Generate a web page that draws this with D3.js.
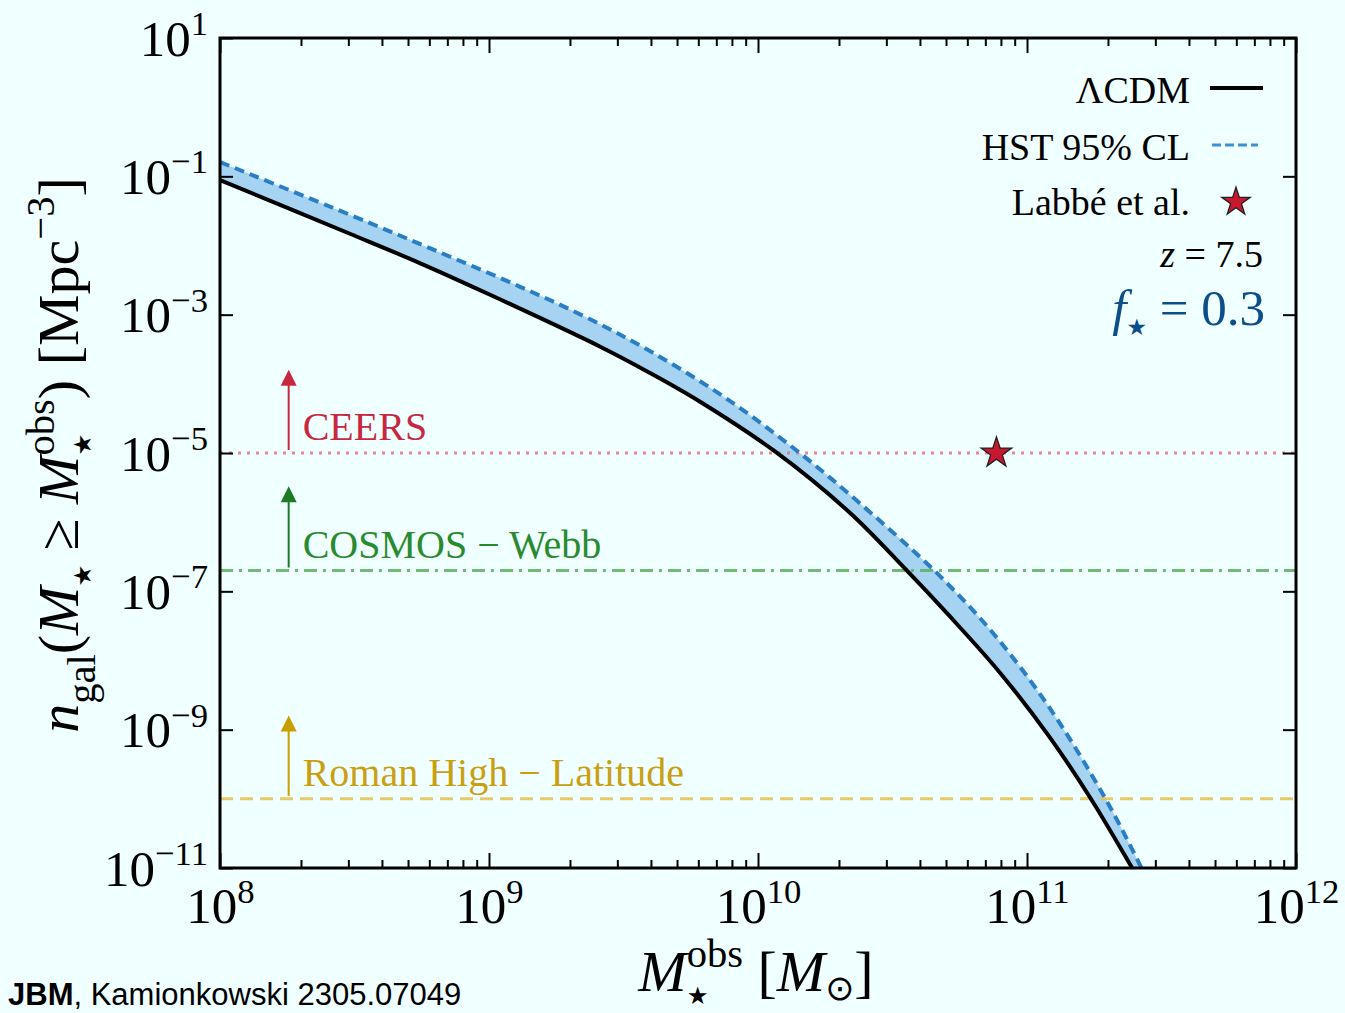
<!DOCTYPE html>
<html>
<head>
<meta charset="utf-8">
<script src="https://cdn.jsdelivr.net/npm/d3@7"></script>
<style>
  body { margin: 0; background: #f0ffff; }
  svg { display: block; }
</style>
</head>
<body>
<script>
// LCDM cumulative number density (solid black curve)
const lcdmMass    = [1e8, 3.04e8, 5.53e8, 1e9, 2.58e9, 3.95e9, 6.07e9, 1.15e10, 2.19e10, 3.5e10, 5.14e10, 7.89e10, 1.21e11, 1.73e11, 2.46e11, 3.1e11];
const lcdmDensity = [8.85e-2, 1.48e-2, 5.57e-3, 1.97e-3, 3.47e-4, 1.45e-4, 5.56e-5, 1.07e-5, 1.38e-6, 2.18e-7, 4.44e-8, 6.83e-9, 7.94e-10, 9.95e-11, 1.0e-11, 2.1e-12];

// HST 95% CL upper edge (dashed blue curve)
const hstMass    = [1e8, 3.04e8, 6.03e8, 1.3e9, 2.27e9, 3.95e9, 7.52e9, 1.43e10, 2.59e10, 4.72e10, 7.55e10, 1.21e11, 1.97e11, 2.65e11, 3.24e11];
const hstDensity = [1.61e-1, 2.78e-2, 9.14e-3, 2.55e-3, 9.37e-4, 3.0e-4, 6.37e-5, 1.0e-5, 1.43e-6, 1.7e-7, 2.38e-8, 2.1e-9, 9.6e-11, 1.05e-11, 2.24e-12];

// survey detection limits
const surveyNames  = ["CEERS", "COSMOS \u2212 Webb", "Roman High \u2212 Latitude"];
const surveyLimits = [1e-5, 2e-7, 1e-10];
const surveyArrowTips = [1.6e-4, 3.3e-6, 1.6e-9];
const surveyArrowMass = 1.8e8;

// Labbe et al. candidate
const labbeMass = [7.7e10];
const labbeDensity = [1e-5];

// ticks
const massTicks = [1e8, 1e9, 1e10, 1e11, 1e12];
const densTicks = [1e1, 1e-1, 1e-3, 1e-5, 1e-7, 1e-9, 1e-11];
const minorMassTicks = [];
[1e8, 1e9, 1e10, 1e11].forEach(function(p) {
  for (let k = 2; k <= 9; k++) minorMassTicks.push(k * p);
});

const serif = "'Liberation Serif','DejaVu Serif',serif";
const STAR = "\u2605";

const svg = d3.select("body").append("svg")
  .attr("width", 1345).attr("height", 1013);

svg.append("rect").attr("width", 1345).attr("height", 1013).attr("fill", "#f0ffff");

const x = d3.scaleLog().domain([1e8, 1e12]).range([220, 1296]);
const y = d3.scaleLog().domain([1e-11, 1e1]).range([868, 38]);

svg.append("clipPath").attr("id", "plotclip")
  .append("rect").attr("x", 220).attr("y", 38).attr("width", 1076).attr("height", 830);

// little helper for math-ish text with sub/superscripts
function mathText(sel, segs, size) {
  let off = 0, prev = null;
  segs.forEach(function(s) {
    const sc = s.sc || 1;
    const target = (s.off || 0) * size;
    const ts = sel.append("tspan").text(s.t)
      .attr("font-size", size * sc)
      .attr("font-style", s.it ? "italic" : "normal");
    if (s.fam) ts.attr("font-family", s.fam);
    if (target !== off) ts.attr("dy", target - off);
    if (s.back && prev) ts.attr("dx", -prev.node().getComputedTextLength());
    off = target;
    prev = ts;
  });
}
function expSegs(d) {
  const e = Math.round(Math.log10(d));
  return [{t: "10"}, {t: (e < 0 ? "\u2212" + (-e) : "" + e), sc: 0.68, off: -0.4}];
}

const plot = svg.append("g").attr("clip-path", "url(#plotclip)");

const lcdm = lcdmMass.map((m, i) => [m, lcdmDensity[i]]);
const hst = hstMass.map((m, i) => [m, hstDensity[i]]);

const line = d3.line()
  .x(d => x(d[0])).y(d => y(d[1]))
  .curve(d3.curveCatmullRom.alpha(0.5));

// shaded band between the two curves
const bandPath = line(hst) + "L" + line(lcdm.slice().reverse()).slice(1) + "Z";
plot.append("path").attr("d", bandPath).attr("fill", "#a6d3f1").attr("stroke", "none");

// survey limit lines
const surveyLine = ["#e97582", "#5cb060", "#e7c24c"];
const surveyDash = ["3,6", "13,6,3,6", "13,7"];
const surveyText = ["#c8283f", "#2a8a30", "#c9a012"];
const surveyArrow = ["#c8283f", "#1e7a26", "#c99f00"];

surveyLimits.forEach(function(v, i) {
  plot.append("line")
    .attr("x1", x(1e8)).attr("x2", x(1e12))
    .attr("y1", y(v)).attr("y2", y(v))
    .attr("stroke", surveyLine[i]).attr("stroke-width", 3)
    .attr("stroke-dasharray", surveyDash[i])
    .attr("opacity", 0.85);
});

plot.append("path").attr("d", line(lcdm))
  .attr("fill", "none").attr("stroke", "#000").attr("stroke-width", 4);
plot.append("path").attr("d", line(hst))
  .attr("fill", "none").attr("stroke", "#2a7fc4").attr("stroke-width", 4)
  .attr("stroke-dasharray", "10,6");

// arrows + labels
surveyLimits.forEach(function(v, i) {
  const ax = x(surveyArrowMass);
  const yt = y(surveyArrowTips[i]);
  svg.append("line")
    .attr("x1", ax).attr("x2", ax)
    .attr("y1", y(v) - 3).attr("y2", yt + 14)
    .attr("stroke", surveyArrow[i]).attr("stroke-width", 2);
  svg.append("path")
    .attr("d", "M" + ax + "," + yt + "L" + (ax - 8) + "," + (yt + 16) + "L" + (ax + 8) + "," + (yt + 16) + "Z")
    .attr("fill", surveyArrow[i]);
  svg.append("text")
    .attr("x", ax + 14).attr("y", y(v) - 13)
    .attr("font-family", serif).attr("font-size", 40)
    .attr("fill", surveyText[i])
    .text(surveyNames[i]);
});

// Labbe star
svg.selectAll(".labbe")
  .data(labbeMass)
  .enter().append("path")
  .attr("class", "labbe")
  .attr("transform", (d, i) => "translate(" + x(d) + "," + y(labbeDensity[i]) + ")")
  .attr("d", d3.symbol(d3.symbolStar, 290))
  .attr("fill", "#c8182f").attr("stroke", "#222").attr("stroke-width", 1.3);

// axes
function styleTicks(g) {
  g.select(".domain").remove();
  g.selectAll(".tick line").attr("stroke", "#000").attr("stroke-width", 2);
}

const gx = svg.append("g").attr("transform", "translate(0,868)")
  .call(d3.axisBottom(x).tickValues(massTicks).tickSize(-15).tickSizeOuter(0).tickFormat(""));
styleTicks(gx);
gx.selectAll(".tick text")
  .attr("y", 55).attr("dy", 0)
  .attr("font-family", serif)
  .each(function(d) { mathText(d3.select(this), expSegs(d), 51); });

svg.append("g").attr("transform", "translate(0,868)")
  .call(d3.axisBottom(x).tickValues(minorMassTicks).tickSize(-8).tickSizeOuter(0).tickFormat(""))
  .call(styleTicks);
svg.append("g").attr("transform", "translate(0,38)")
  .call(d3.axisTop(x).tickValues(massTicks).tickSize(-15).tickSizeOuter(0).tickFormat(""))
  .call(styleTicks);
svg.append("g").attr("transform", "translate(0,38)")
  .call(d3.axisTop(x).tickValues(minorMassTicks).tickSize(-8).tickSizeOuter(0).tickFormat(""))
  .call(styleTicks);

const gy = svg.append("g").attr("transform", "translate(220,0)")
  .call(d3.axisLeft(y).tickValues(densTicks).tickSize(-13).tickSizeOuter(0).tickPadding(12).tickFormat(""));
styleTicks(gy);
gy.selectAll(".tick text")
  .attr("dy", 17)
  .attr("font-family", serif)
  .each(function(d) { mathText(d3.select(this), expSegs(d), 51); });

svg.append("g").attr("transform", "translate(1296,0)")
  .call(d3.axisRight(y).tickValues(densTicks).tickSize(-13).tickSizeOuter(0).tickFormat(""))
  .call(styleTicks);

// frame
svg.append("rect")
  .attr("x", 220).attr("y", 38).attr("width", 1076).attr("height", 830)
  .attr("fill", "none").attr("stroke", "#000").attr("stroke-width", 3);

// axis titles
const xt = svg.append("text")
  .attr("x", 756).attr("y", 991)
  .attr("text-anchor", "middle")
  .attr("font-family", serif).attr("fill", "#000");
mathText(xt, [
  {t: "M", it: true},
  {t: STAR, sc: 0.42, off: 0.23, fam: "'DejaVu Sans'"},
  {t: "obs", sc: 0.7, off: -0.42, back: true},
  {t: "   [", off: 0},
  {t: "M", it: true},
  {t: "\u2299", sc: 0.6, off: 0.16, fam: "'DejaVu Sans'"},
  {t: "]", off: 0}
], 58);

const yt = svg.append("text")
  .attr("transform", "translate(78,455) rotate(-90)")
  .attr("text-anchor", "middle")
  .attr("font-family", serif).attr("fill", "#000");
mathText(yt, [
  {t: "n", it: true},
  {t: "gal", sc: 0.7, off: 0.3},
  {t: "(", off: 0},
  {t: "M", it: true},
  {t: STAR, sc: 0.42, off: 0.23, fam: "'DejaVu Sans'"},
  {t: "  \u2265  ", off: 0},
  {t: "M", it: true},
  {t: STAR, sc: 0.42, off: 0.23, fam: "'DejaVu Sans'"},
  {t: "obs", sc: 0.7, off: -0.42, back: true},
  {t: ")   [Mpc", off: 0},
  {t: "\u22123", sc: 0.7, off: -0.42},
  {t: "]", off: 0}
], 58);

// legend
const leg = svg.append("g").attr("font-family", serif).attr("font-size", 38).attr("fill", "#000");
leg.append("text").attr("x", 1190).attr("y", 103).attr("text-anchor", "end").text("\u039bCDM");
leg.append("line").attr("x1", 1210).attr("x2", 1263).attr("y1", 88).attr("y2", 88)
  .attr("stroke", "#000").attr("stroke-width", 4);
leg.append("text").attr("x", 1190).attr("y", 160).attr("text-anchor", "end").text("HST 95% CL");
leg.append("line").attr("x1", 1212).attr("x2", 1258).attr("y1", 145).attr("y2", 145)
  .attr("stroke", "#3d92d6").attr("stroke-width", 3).attr("stroke-dasharray", "9,4");
leg.append("text").attr("x", 1190).attr("y", 215).attr("text-anchor", "end").text("Labb\u00e9 et al.");
leg.append("path").attr("transform", "translate(1236,202)")
  .attr("d", d3.symbol(d3.symbolStar, 250))
  .attr("fill", "#c8182f").attr("stroke", "#222").attr("stroke-width", 1.3);

const zt = leg.append("text").attr("x", 1263).attr("y", 267).attr("text-anchor", "end");
mathText(zt, [{t: "z", it: true}, {t: "  =  7.5"}], 38);

const ft = leg.append("text").attr("x", 1265).attr("y", 325).attr("text-anchor", "end").attr("fill", "#0d4f8b");
mathText(ft, [
  {t: "f", it: true},
  {t: STAR, sc: 0.45, off: 0.2, fam: "'DejaVu Sans'"},
  {t: "  =  0.3", off: 0}
], 51);

// credit line
const cr = svg.append("text").attr("x", 8).attr("y", 1005)
  .attr("font-family", "'Liberation Sans',Arial,sans-serif").attr("font-size", 31).attr("fill", "#000");
cr.append("tspan").attr("font-weight", "bold").text("JBM");
cr.append("tspan").text(", Kamionkowski 2305.07049");
</script>
</body>
</html>
